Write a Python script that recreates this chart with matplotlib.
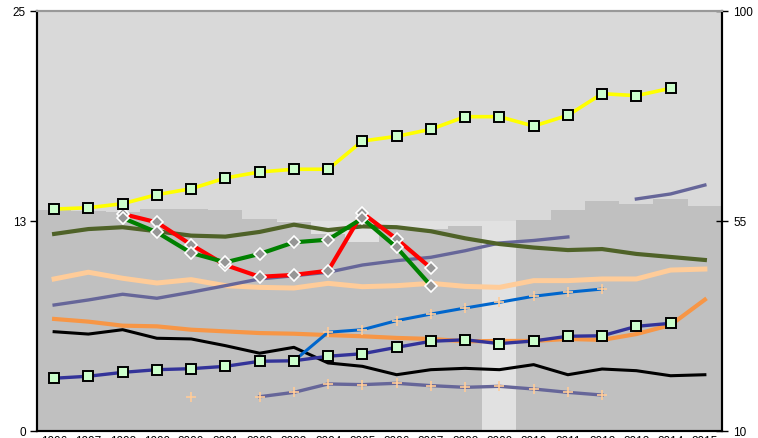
import numpy as np
import matplotlib
matplotlib.use("Agg")
import matplotlib.pyplot as plt

plt.rcParams['font.family'] = ['Liberation Sans', 'DejaVu Sans']

years = [str(y) for y in range(1996, 2016)]
nan = np.nan

# background columns, right axis (10-100)
bars = [57.4, 57.1, 56.9, 57.6, 57.6, 57.4, 55.4, 54.8, 52.2, 50.5,
        53.3, 53.3, 53.9, 0, 55.2, 57.4, 59.3, 58.6, 59.7, 58.3]

# line series, left axis (0-25)
yellow = [13.21, 13.29, 13.53, 14.07, 14.42, 15.06, 15.42, 15.58, 15.58, 17.26,
          17.54, 17.96, 18.71, 18.71, 18.15, 18.79, 20.08, 19.96, 20.40, nan]
navy = [3.14, 3.26, 3.49, 3.65, 3.71, 3.85, 4.15, 4.18, 4.45, 4.60,
        4.98, 5.34, 5.43, 5.20, 5.36, 5.64, 5.67, 6.23, 6.41, nan]
olive = [11.73, 12.02, 12.13, 11.89, 11.63, 11.57, 11.85, 12.28, 11.96, 12.18,
         12.13, 11.89, 11.47, 11.13, 10.92, 10.77, 10.83, 10.54, 10.36, 10.18]
purple = [7.50, 7.80, 8.14, 7.90, 8.26, 8.65, 9.05, 9.24, 9.45, 9.88,
          10.14, 10.34, 10.73, 11.19, 11.34, 11.55, nan, 13.81, 14.11, 14.64]
red = [nan, nan, 12.92, 12.42, 11.09, 9.88, 9.18, 9.29, 9.54, 12.98,
       11.43, 9.70, nan, nan, nan, nan, nan, nan, nan, nan]
green = [nan, nan, 12.68, 11.83, 10.60, 10.04, 10.54, 11.23, 11.39, 12.66,
         10.93, 8.65, nan, nan, nan, nan, nan, nan, nan, nan]
peach = [9.05, 9.45, 9.09, 8.81, 9.01, 8.65, 8.55, 8.51, 8.79, 8.59,
         8.65, 8.79, 8.61, 8.55, 8.95, 8.95, 9.05, 9.05, 9.58, 9.64]
orange = [6.67, 6.51, 6.27, 6.23, 6.03, 5.93, 5.83, 5.79, 5.71, 5.64,
          5.54, 5.48, 5.34, 5.36, 5.36, 5.48, 5.42, 5.77, 6.31, 7.82]
black = [5.91, 5.77, 6.03, 5.52, 5.48, 5.08, 4.63, 4.98, 4.05, 3.85,
         3.35, 3.65, 3.73, 3.65, 3.95, 3.35, 3.69, 3.59, 3.29, 3.35]
blue = [nan, nan, nan, nan, nan, nan, nan, 4.17, 5.88, 6.03,
        6.57, 6.96, 7.32, 7.66, 8.02, 8.26, 8.45, nan, nan, nan]
slate = [nan, nan, nan, nan, 2.01, nan, 2.04, 2.30, 2.80, 2.76,
         2.84, 2.70, 2.60, 2.66, 2.50, 2.30, 2.14, nan, nan, nan]

x = np.arange(len(years))

fig = plt.figure(figsize=(7.58, 4.39), dpi=100)
ax = fig.add_axes([37 / 758, 7 / 439, 685 / 758, 420 / 439])
ax2 = ax.twinx()

# bars + background on the right axis, lines on top
ax2.axhspan(55, 100, color='#D9D9D9', lw=0, zorder=0)
ax2.axhspan(10, 55, color='#E1E1E1', lw=0, zorder=0)
ax2.bar(x, bars, width=1.0, color='#C0C0C0', lw=0, zorder=1)
ax2.set_ylim(10, 100)
ax2.set_yticks([10, 55, 100])
ax.set_zorder(ax2.get_zorder() + 1)
ax.patch.set_visible(False)

sq = dict(marker='s', ms=7, mfc='#CCFFCC', mec='black', mew=1.4)
dia = dict(marker='D', ms=6.5, mfc='#969696', mec='white', mew=1.2)
plus = dict(marker='+', ms=7, mec='#FFCC99', mew=1.2)

ax.plot(x, peach, color='#FFCC99', lw=3.6)
ax.plot(x, orange, color='#F79646', lw=3.0)
ax.plot(x, black, color='black', lw=2.2)
ax.plot(x, purple, color='#666699', lw=2.4)
ax.plot(x, slate, color='#666699', lw=2.4, **plus)
ax.plot(x, blue, color='#0066CC', lw=2.2, **plus)
ax.plot(x, navy, color='#333399', lw=2.4, **sq)
ax.plot(x, olive, color='#4F6228', lw=3.0)
ax.plot(x, red, color='red', lw=3.0, **dia)
ax.plot(x, green, color='green', lw=3.0, **dia)
ax.plot(x, yellow, color='yellow', lw=2.6, **sq)

ax.set_xlim(-0.5, len(years) - 0.5)
ax.set_ylim(0, 25)
ax.set_yticks([0, 12.5, 25])
ax.set_yticklabels(['0', '13', '25'])
ax.set_xticks(x)
ax.set_xticklabels(years)

ax.tick_params(axis='x', length=0, pad=3, labelsize=8.5)
ax.tick_params(axis='y', direction='out', length=5, width=1, labelsize=8.5, pad=3)
ax2.tick_params(axis='y', direction='inout', length=8, width=1, labelsize=8.5, pad=4)

for a in (ax, ax2):
    a.spines['top'].set_color('#999999')
    a.spines['top'].set_linewidth(1.5)
    a.spines['left'].set_linewidth(1.5)
    a.spines['right'].set_linewidth(1.5)
    a.spines['bottom'].set_linewidth(1.5)

fig.savefig('out.png', dpi=100)
